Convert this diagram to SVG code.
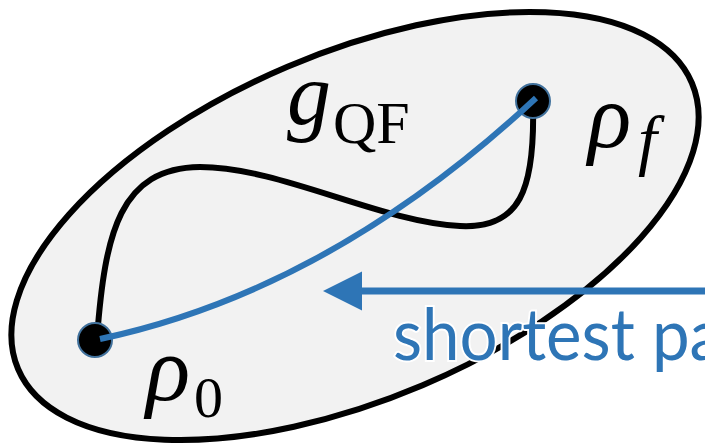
<svg xmlns="http://www.w3.org/2000/svg" width="705" height="448" viewBox="0 0 705 448">
<style>
.math{font-family:"Liberation Serif","DejaVu Serif",serif;fill:#000}
.it{font-style:italic}
.dot{fill:#000;stroke:#41719C;stroke-width:2}
.path{fill:none;stroke:#000;stroke-width:6;stroke-linecap:round}
.blue{fill:none;stroke:#2E75B6;stroke-width:6}
</style>
<defs>
<marker id="ah" markerUnits="userSpaceOnUse" markerWidth="40" markerHeight="40" refX="0" refY="20" orient="auto" viewBox="0 0 40 40">
<path d="M0,0.5 L39,20 L0,39.5 Z" fill="#2E75B6"/>
</marker>
</defs>
<g id="space">
<ellipse cx="355" cy="226" rx="366" ry="173" transform="rotate(-23 355 226)" fill="#F2F2F2" stroke="#000" stroke-width="6"/>
</g>
<g id="connectors">
<path id="gQF-path" class="path" d="M97,338 C105,232 120,168 200,167 C280,167 380,222 460,226 C520,229 535,190 533,105"/>
</g>
<g id="rho0">
<circle class="dot" cx="95" cy="340" r="17"/>
<text class="math" x="146" y="400"><tspan class="it" font-size="92">ρ</tspan><tspan font-size="58" x="194" y="417">0</tspan></text>
</g>
<g id="rhof">
<circle class="dot" cx="533" cy="101" r="17"/>
<text class="math" x="588" y="147"><tspan class="it" font-size="90">ρ</tspan><tspan class="it" font-size="68" x="638" y="163">f</tspan></text>
</g>
<g id="connectors-blue">
<path id="shortest" class="blue" d="M100,339 Q330,290 536,98"/>
<path id="arrow" d="M705,291 L362,291" fill="none" stroke="#2E75B6" stroke-width="7" marker-end="url(#ah)"/>
</g>
<g id="labels">
<text class="math" x="287" y="124"><tspan class="it" font-size="88">g</tspan><tspan font-size="60" x="333" y="143">QF</tspan></text>
<text x="393" y="360" font-family="Lato,'Open Sans',sans-serif" font-size="72" fill="#2E75B6" stroke="#fff" stroke-width="4" paint-order="stroke" textLength="330" lengthAdjust="spacingAndGlyphs">shortest pa</text>
</g>
</svg>
